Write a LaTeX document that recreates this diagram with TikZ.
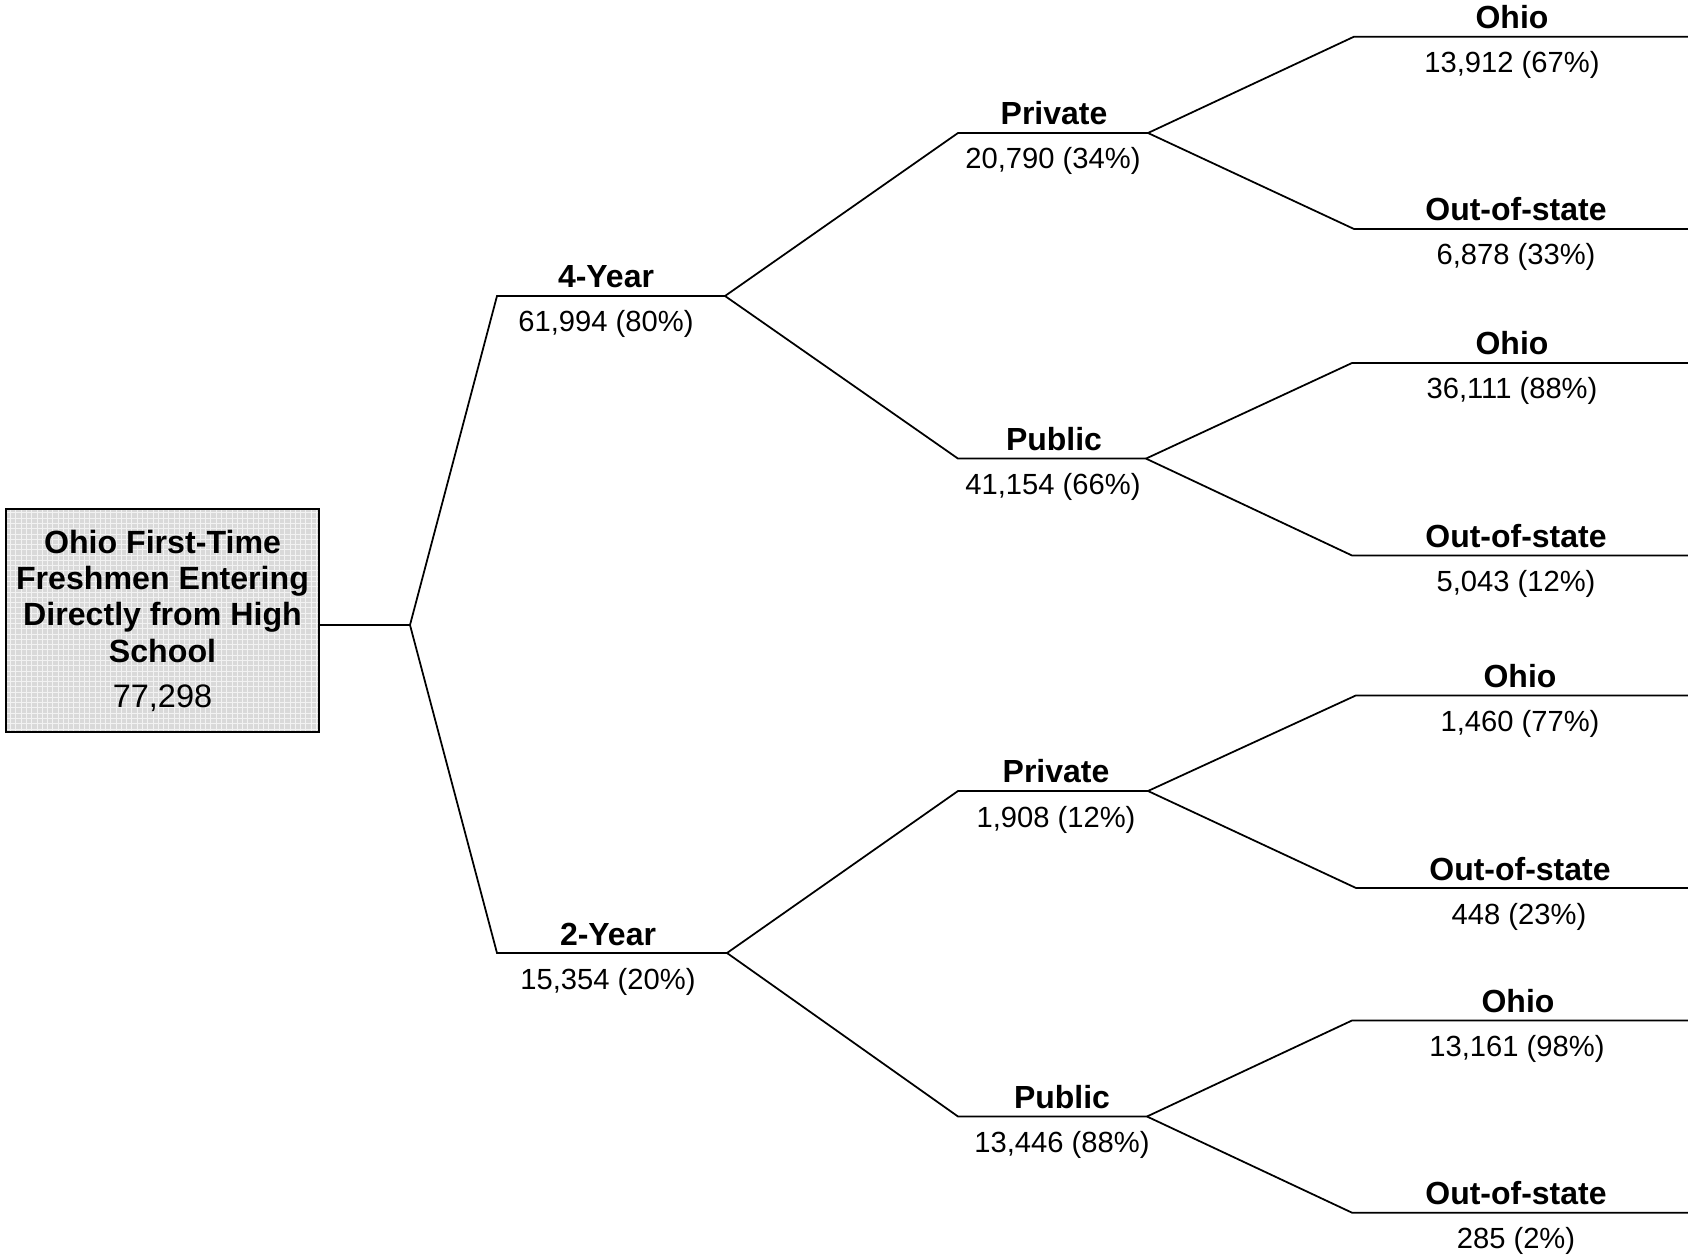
\documentclass[tikz,border=0pt]{standalone}
\usepackage{fontspec}
\setmainfont{Liberation Sans}
\usepackage{tikz}
\usetikzlibrary{positioning,patterns}

\begin{document}
\begin{tikzpicture}[
  x=0.02cm, y=-0.02cm,
  ttl/.style={font=\fontsize{18.2}{20}\selectfont\bfseries, anchor=base, inner sep=0pt},
  val/.style={font=\fontsize{16.6}{20}\selectfont, anchor=base, inner sep=0pt},
  link/.style={line width=1pt, line join=miter},
  rootbox/.style={draw, line width=1.3pt, preaction={fill=gray!30}, pattern=grid,
    pattern color=gray!10, minimum width=6.26cm, minimum height=4.46cm, inner sep=0pt,
    align=center, font=\fontsize{18.3}{20.7}\selectfont\bfseries}
]
\useasboundingbox (0,0) rectangle (1688,1256);

% starting cohort
\node[rootbox] (hs) at (162.5,620.5) {Ohio First-Time\\ Freshmen Entering\\ Directly from High\\
  School\\[4.9pt] \fontsize{18.5}{20.7}\selectfont\mdseries 77,298};
\coordinate (fork) at (410,625);

% level of institution
\coordinate (y4-l) at (497,296);  \coordinate (y4-r) at (725,296);
\coordinate (y2-l) at (497,953);  \coordinate (y2-r) at (727,953);
\node[ttl] (y4t) at (606,288) {4-Year};
\node[val] (y4v) at (606,332) {61,994 (80\%)};
\node[ttl] (y2t) at (608,945) {2-Year};
\node[val] (y2v) at (608,989) {15,354 (20\%)};

% control
\coordinate (pr4-l) at (958,133);  \coordinate (pr4-r) at (1148,133);
\coordinate (pu4-l) at (958,458.6); \coordinate (pu4-r) at (1146,458.6);
\coordinate (pr2-l) at (958,791);  \coordinate (pr2-r) at (1148,791);
\coordinate (pu2-l) at (958,1116.5); \coordinate (pu2-r) at (1147,1116.5);
\node[ttl] (pr4t) at (1054,125) {Private};
\node[val] (pr4v) at (1053,169) {20,790 (34\%)};
\node[ttl] (pu4t) at (1054,450.6) {Public};
\node[val] (pu4v) at (1053,494.6) {41,154 (66\%)};
\node[ttl] (pr2t) at (1056,783) {Private};
\node[val] (pr2v) at (1056,827) {1,908 (12\%)};
\node[ttl] (pu2t) at (1062,1108.5) {Public};
\node[val] (pu2v) at (1062,1152.5) {13,446 (88\%)};

% residence
\coordinate (a1-l) at (1354,36.7);  \coordinate (a1-r) at (1688,36.7);
\coordinate (a2-l) at (1354,229);   \coordinate (a2-r) at (1688,229);
\coordinate (b1-l) at (1352,363);   \coordinate (b1-r) at (1688,363);
\coordinate (b2-l) at (1352,555.5); \coordinate (b2-r) at (1688,555.5);
\coordinate (c1-l) at (1356,695.4); \coordinate (c1-r) at (1688,695.4);
\coordinate (c2-l) at (1356,888);   \coordinate (c2-r) at (1688,888);
\coordinate (d1-l) at (1352,1020.5); \coordinate (d1-r) at (1688,1020.5);
\coordinate (d2-l) at (1352,1212.7); \coordinate (d2-r) at (1688,1212.7);
\node[ttl] (a1t) at (1512,28.7) {Ohio};
\node[val] (a1v) at (1512,72.7) {13,912 (67\%)};
\node[ttl] (a2t) at (1516,221) {Out-of-state};
\node[val] (a2v) at (1516,265) {6,878 (33\%)};
\node[ttl] (b1t) at (1512,355) {Ohio};
\node[val] (b1v) at (1512,399) {36,111 (88\%)};
\node[ttl] (b2t) at (1516,547.5) {Out-of-state};
\node[val] (b2v) at (1516,591.5) {5,043 (12\%)};
\node[ttl] (c1t) at (1520,687.4) {Ohio};
\node[val] (c1v) at (1520,731.4) {1,460 (77\%)};
\node[ttl] (c2t) at (1520,880) {Out-of-state};
\node[val] (c2v) at (1519,924) {448 (23\%)};
\node[ttl] (d1t) at (1518,1012.5) {Ohio};
\node[val] (d1v) at (1517,1056.5) {13,161 (98\%)};
\node[ttl] (d2t) at (1516,1204.7) {Out-of-state};
\node[val] (d2v) at (1516,1248.7) {285 (2\%)};

% branches
\draw[link] (hs.east |- fork) -- (fork);
\foreach \b in {y4,y2}
  \draw[link] (fork) -- (\b-l) -- (\b-r);
\foreach \a/\b in {y4/pr4, y4/pu4, y2/pr2, y2/pu2, pr4/a1, pr4/a2, pu4/b1, pu4/b2,
    pr2/c1, pr2/c2, pu2/d1, pu2/d2}
  \draw[link] (\a-r) -- (\b-l) -- (\b-r);
\end{tikzpicture}
\end{document}
